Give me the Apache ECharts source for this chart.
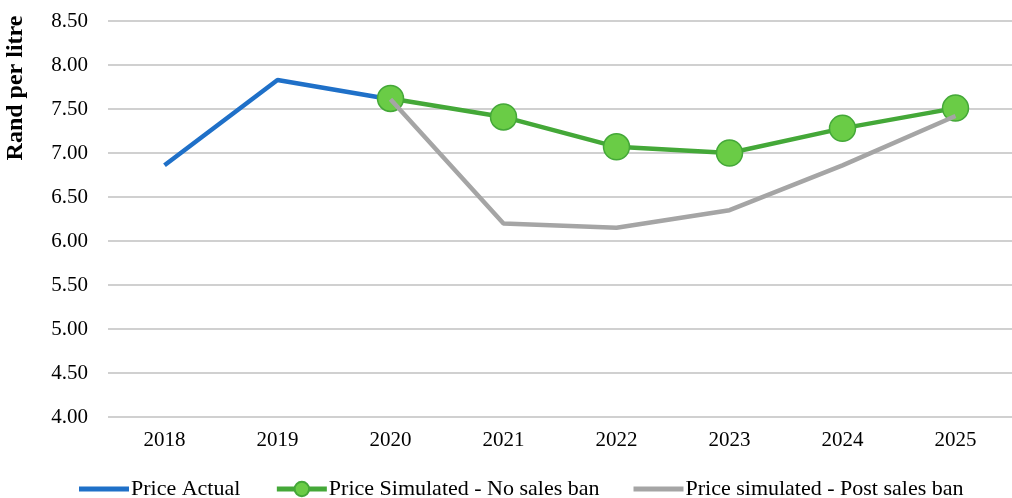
<!DOCTYPE html>
<html>
<head>
<meta charset="utf-8">
<script src="https://cdn.jsdelivr.net/npm/echarts@6/dist/echarts.min.js"></script>
<style>
  html, body { margin: 0; padding: 0; background: #fff; }
  #chart { width: 1012px; height: 498px; }
</style>
</head>
<body>
<div id="chart"></div>
<script>
// Rand per litre, actual vs simulated (with / without sales ban)
const years = ["2018", "2019", "2020", "2021", "2022", "2023", "2024", "2025"];
const priceActual = [6.86, 7.83, 7.61, null, null, null, null, null];
const priceNoBan = [null, null, 7.62, 7.41, 7.07, 7.00, 7.28, 7.51];
const pricePostBan = [null, null, 7.61, 6.20, 6.15, 6.35, 6.86, 7.42];

const FONT = "Liberation Serif";
const BLUE = "#1f70c8", GREEN = "#44a838", GREEN_FILL = "#6acc46", GREY = "#a5a5a5";
const barIcon = "path://M0,0 L50,0 L50,5 L0,5 Z";

const chart = echarts.init(document.getElementById("chart"));

chart.setOption({
  animation: false,
  grid: { left: 108, right: 0, top: 21, bottom: 81 },
  graphic: [{
    type: "text",
    x: 16, y: 88,
    rotation: Math.PI / 2,
    style: {
      text: "Rand per litre",
      font: "bold 24px 'Liberation Serif'",
      fill: "#000",
      align: "center",
      verticalAlign: "middle"
    }
  }],
  legend: {
    top: 473,
    left: 74,
    itemGap: 34,
    itemWidth: 50,
    itemHeight: 18,
    lineStyle: { width: 5 },
    textStyle: { fontFamily: FONT, fontSize: 22, color: "#000", padding: [0, 0, 0, -3] },
    data: [
      { name: "Price Actual", icon: barIcon, itemStyle: { color: BLUE } },
      { name: "Price Simulated - No sales ban" },
      { name: "Price simulated - Post sales ban", icon: barIcon, itemStyle: { color: GREY } }
    ]
  },
  xAxis: {
    type: "category",
    data: years,
    axisLine: { show: false },
    axisTick: { show: false },
    axisLabel: { fontFamily: FONT, fontSize: 21, color: "#000", margin: 13 }
  },
  yAxis: {
    type: "value",
    min: 4,
    max: 8.5,
    interval: 0.5,
    axisLabel: {
      fontFamily: FONT, fontSize: 21, color: "#000", margin: 20,
      formatter: (v) => v.toFixed(2)
    },
    splitLine: { lineStyle: { color: "#c0c0c0", width: 1.5 } }
  },
  series: [
    {
      name: "Price Actual",
      type: "line",
      data: priceActual,
      symbol: "none",
      lineStyle: { color: BLUE, width: 4.5 },
      itemStyle: { color: BLUE },
      z: 2
    },
    {
      name: "Price Simulated - No sales ban",
      type: "line",
      data: priceNoBan,
      symbol: "circle",
      symbolSize: 26,
      lineStyle: { color: GREEN, width: 4.5 },
      itemStyle: { color: GREEN_FILL, borderColor: GREEN, borderWidth: 1.5 },
      z: 3
    },
    {
      name: "Price simulated - Post sales ban",
      type: "line",
      data: pricePostBan,
      symbol: "none",
      lineStyle: { color: GREY, width: 4.5 },
      itemStyle: { color: GREY },
      z: 4
    }
  ]
});
</script>
</body>
</html>
